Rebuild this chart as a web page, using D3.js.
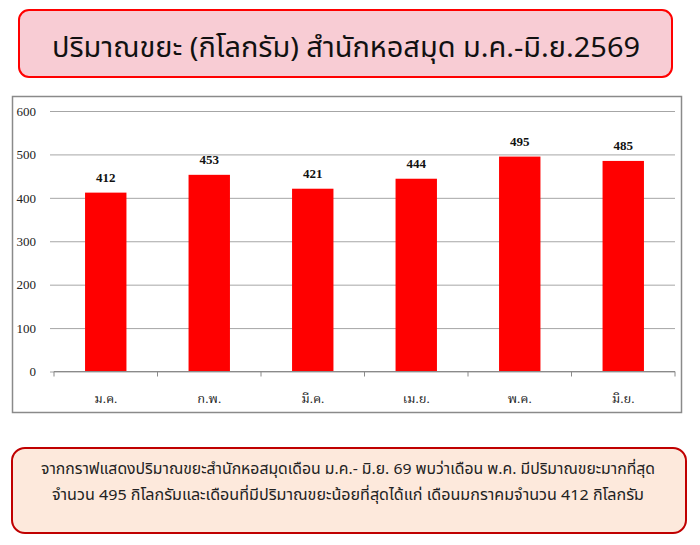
<!DOCTYPE html>
<html>
<head>
<meta charset="utf-8">
<script src="https://cdn.jsdelivr.net/npm/d3@7"></script>
<style>
  html, body { margin: 0; padding: 0; background: #fff; }
  svg { display: block; }
</style>
</head>
<body>
<svg id="chart" width="700" height="545"></svg>
<script>
const titleText = "ปริมาณขยะ (กิโลกรัม) สำนักหอสมุด ม.ค.-มิ.ย.2569";
const categories = ["ม.ค.", "ก.พ.", "มี.ค.", "เม.ย.", "พ.ค.", "มิ.ย."];
const values = [412, 453, 421, 444, 495, 485];
const yTicks = [0, 100, 200, 300, 400, 500, 600];
const noteLines = [
  "จากกราฟแสดงปริมาณขยะสำนักหอสมุดเดือน ม.ค.- มิ.ย. 69 พบว่าเดือน พ.ค. มีปริมาณขยะมากที่สุด",
  "จำนวน 495 กิโลกรัมและเดือนที่มีปริมาณขยะน้อยที่สุดได้แก่ เดือนมกราคมจำนวน 412 กิโลกรัม"
];
const noteWidths = [614, 592];

const svg = d3.select("#chart");
const sansThai = "'Noto Sans Thai', 'Noto Sans', 'DejaVu Sans', sans-serif";
const serif = "'Liberation Serif', 'Times New Roman', serif";

// Title box
svg.append("rect")
  .attr("x", 19).attr("y", 10).attr("width", 653).attr("height", 67)
  .attr("rx", 10).attr("ry", 10)
  .attr("fill", "#f8ccd4").attr("stroke", "#ff0000").attr("stroke-width", 2);
svg.append("text")
  .attr("x", 346).attr("y", 57)
  .attr("text-anchor", "middle")
  .attr("font-family", sansThai)
  .attr("font-size", 28)
  .attr("textLength", 588)
  .attr("lengthAdjust", "spacingAndGlyphs")
  .attr("fill", "#111")
  .text(titleText);

// Chart frame
svg.append("rect")
  .attr("x", 12.5).attr("y", 96.5).attr("width", 669).attr("height", 316)
  .attr("fill", "#fff").attr("stroke", "#8a8a8a").attr("stroke-width", 1.5);

const x = d3.scaleBand()
  .domain(categories)
  .range([54, 675])
  .paddingInner(0.6)
  .paddingOuter(0.3);
const y = d3.scaleLinear().domain([0, 600]).range([371.5, 111]);

// gridlines + y labels
const yAxis = d3.axisLeft(y).tickValues(yTicks).tickSize(-(675 - 50)).tickSizeOuter(0).tickPadding(14);
const gy = svg.append("g").attr("transform", "translate(50,0)").call(yAxis);
gy.select(".domain").remove();
gy.selectAll(".tick line").attr("stroke", "#a6a6a6").attr("stroke-width", 1);
gy.selectAll(".tick text")
  .attr("font-family", serif).attr("font-size", 13).attr("fill", "#222");

// bars
svg.append("g").selectAll("rect")
  .data(values)
  .join("rect")
  .attr("x", (d, i) => x(categories[i]))
  .attr("y", d => y(d))
  .attr("width", x.bandwidth())
  .attr("height", d => y(0) - y(d))
  .attr("fill", "#ff0000");

// value labels
svg.append("g").selectAll("text")
  .data(values)
  .join("text")
  .attr("x", (d, i) => x(categories[i]) + x.bandwidth() / 2)
  .attr("y", d => y(d) - 11)
  .attr("text-anchor", "middle")
  .attr("font-family", serif)
  .attr("font-weight", "bold")
  .attr("font-size", 13)
  .attr("fill", "#111")
  .text(d => d);

// x axis
const xBoundary = d3.scaleLinear().domain([0, categories.length]).range([54, 675]);
const xAxisG = svg.append("g");
xAxisG.append("line")
  .attr("x1", 54).attr("x2", 675).attr("y1", y(0)).attr("y2", y(0))
  .attr("stroke", "#8a8a8a").attr("stroke-width", 1);
xAxisG.selectAll("line.tk")
  .data(d3.range(categories.length + 1))
  .join("line").attr("class", "tk")
  .attr("x1", d => xBoundary(d)).attr("x2", d => xBoundary(d))
  .attr("y1", y(0)).attr("y2", y(0) + 5)
  .attr("stroke", "#8a8a8a");
xAxisG.selectAll("text")
  .data(categories)
  .join("text")
  .attr("x", d => x(d) + x.bandwidth() / 2)
  .attr("y", 403)
  .attr("text-anchor", "middle")
  .attr("font-family", "'Liberation Serif', 'Noto Serif Thai', serif")
  .attr("font-size", 13)
  .attr("fill", "#222")
  .text(d => d);

// Note box
svg.append("rect")
  .attr("x", 12).attr("y", 448).attr("width", 674).attr("height", 85)
  .attr("rx", 13).attr("ry", 13)
  .attr("fill", "#fde9dc").attr("stroke", "#c00000").attr("stroke-width", 2);
svg.append("g").selectAll("text")
  .data(noteLines)
  .join("text")
  .attr("x", 348)
  .attr("y", (d, i) => 474 + i * 26)
  .attr("text-anchor", "middle")
  .attr("font-family", sansThai)
  .attr("font-size", 15)
  .attr("textLength", (d, i) => noteWidths[i])
  .attr("lengthAdjust", "spacingAndGlyphs")
  .attr("fill", "#222")
  .text(d => d);
</script>
</body>
</html>
